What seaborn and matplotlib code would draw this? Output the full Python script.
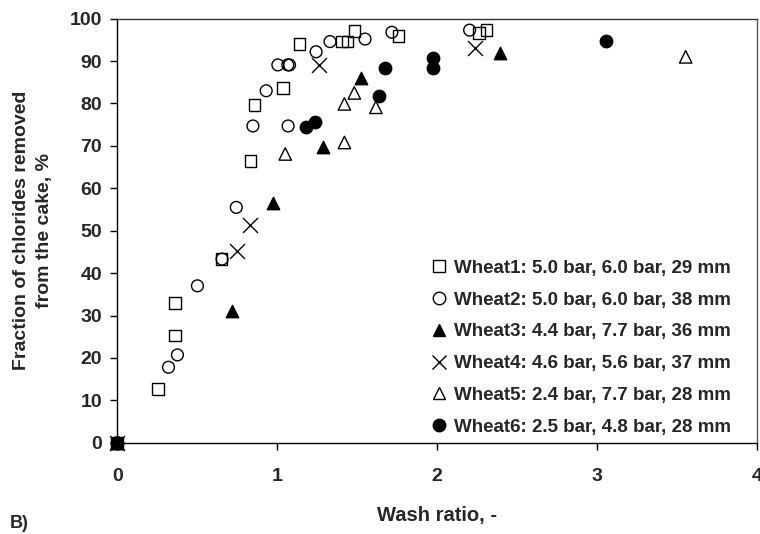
import matplotlib
matplotlib.use("Agg")
import matplotlib.pyplot as plt
import seaborn as sns
import pandas as pd
from matplotlib.lines import Line2D

# ---- data ----
w1_x = [0, 0.256, 0.362, 0.362, 0.651, 0.834, 0.858, 1.035, 1.139, 1.405, 1.44, 1.484, 1.758, 2.261, 2.309]
w1_y = [0, 12.7, 25.3, 32.9, 43.3, 66.5, 79.6, 83.6, 94.0, 94.6, 94.6, 97.1, 95.9, 96.6, 97.3]

w2_x = [0, 0.320, 0.376, 0.501, 0.655, 0.744, 0.848, 0.931, 1.004, 1.066, 1.077, 1.068, 1.243, 1.330, 1.549, 1.717, 2.203]
w2_y = [0, 17.8, 20.7, 37.0, 43.3, 55.5, 74.7, 83.0, 89.1, 89.1, 89.1, 74.7, 92.2, 94.6, 95.2, 96.8, 97.3]

w3_x = [0, 0.719, 0.973, 1.289, 1.524, 2.396]
w3_y = [0, 31.1, 56.5, 69.8, 85.9, 91.8]

w4_x = [0, 0.751, 0.831, 1.264, 2.236]
w4_y = [0, 45.2, 51.3, 89.1, 93.0]

w5_x = [0, 1.050, 1.420, 1.420, 1.482, 1.617, 3.554]
w5_y = [0, 68.1, 70.8, 79.9, 82.5, 79.1, 91.0]

w6_x = [0, 1.181, 1.237, 1.638, 1.675, 1.974, 1.974, 3.057]
w6_y = [0, 74.4, 75.6, 81.8, 88.4, 88.3, 90.7, 94.8]

labels = ["Wheat1: 5.0 bar, 6.0 bar, 29 mm",
          "Wheat2: 5.0 bar, 6.0 bar, 38 mm",
          "Wheat3: 4.4 bar, 7.7 bar, 36 mm",
          "Wheat4: 4.6 bar, 5.6 bar, 37 mm",
          "Wheat5: 2.4 bar, 7.7 bar, 28 mm",
          "Wheat6: 2.5 bar, 4.8 bar, 28 mm"]
x_ticks = [0, 1, 2, 3, 4]
y_ticks = list(range(0, 101, 10))

series = [(w1_x, w1_y), (w2_x, w2_y), (w3_x, w3_y), (w4_x, w4_y), (w5_x, w5_y), (w6_x, w6_y)]
styles = [
    dict(marker="s", fc="none", s=70),
    dict(marker="o", fc="none", s=72),
    dict(marker="^", fc="black", s=80),
    dict(marker="x", fc="black", s=115),
    dict(marker="^", fc="none", s=80),
    dict(marker="o", fc="black", s=80),
]

sns.set_style("white")
plt.rcParams["font.family"] = ["Liberation Sans", "DejaVu Sans"]
plt.rcParams["font.weight"] = "bold"

fig = plt.figure(figsize=(7.6, 5.34), dpi=100)
ax = fig.add_axes([117.3 / 760, 1 - 442.7 / 534, (757 - 117.3) / 760, (442.7 - 18.7) / 534])

rows = []
for lab, (xs, ys) in zip(labels, series):
    for xv, yv in zip(xs, ys):
        rows.append({"series": lab, "x": xv, "y": yv})
df = pd.DataFrame(rows)

handles = []
for lab, st in zip(labels, styles):
    sub = df[df["series"] == lab]
    if st["marker"] == "x":
        sns.scatterplot(data=sub, x="x", y="y", marker="x", s=st["s"], color="black",
                        linewidth=1.0, ax=ax, legend=False, zorder=3)
        handles.append(Line2D([], [], linestyle="none", marker="x", markersize=10,
                              markeredgecolor="black", markeredgewidth=1.0, label=lab))
    else:
        sns.scatterplot(data=sub, x="x", y="y", marker=st["marker"], s=st["s"],
                        facecolors=st["fc"], edgecolors="black", linewidth=1.0,
                        ax=ax, legend=False, zorder=3)
        handles.append(Line2D([], [], linestyle="none", marker=st["marker"], markersize=9,
                              markerfacecolor=st["fc"], markeredgecolor="black",
                              markeredgewidth=1.0, label=lab))

for coll in ax.collections:
    coll.set_clip_on(False)

ax.set_xlim(0, 4)
ax.set_ylim(0, 100)
ax.set_xticks(x_ticks)
ax.set_yticks(y_ticks)
for sp in ax.spines.values():
    sp.set_visible(True)
    sp.set_color("black")
    sp.set_linewidth(1.0)
ax.spines["right"].set_color("#555555")
ax.spines["top"].set_color("#333333")
ax.tick_params(axis="both", which="major", direction="out", length=5, width=1,
               color="black", labelsize=14, bottom=True, left=True, pad=6)
ax.tick_params(axis="x", pad=13)
for t in ax.get_xticklabels() + ax.get_yticklabels():
    t.set_fontweight("bold")

ax.set_xlabel("Wash ratio, -", fontsize=14.5, fontweight="bold", labelpad=15)
ax.set_ylabel("Fraction of chlorides removed\nfrom the cake, %", fontsize=14,
              fontweight="bold", labelpad=12, linespacing=1.45)

leg = ax.legend(handles=handles, loc="lower right", bbox_to_anchor=(0.978, -0.012),
                frameon=False, fontsize=13.5, handlelength=0.8, handletextpad=0.4,
                labelspacing=0.78, borderaxespad=0.25)
for t in leg.get_texts():
    t.set_fontweight("bold")

fig.text(10 / 760, 1 - 523 / 534, "B)", fontsize=13, fontweight="bold", va="center")

fig.savefig("out.png", dpi=100)
